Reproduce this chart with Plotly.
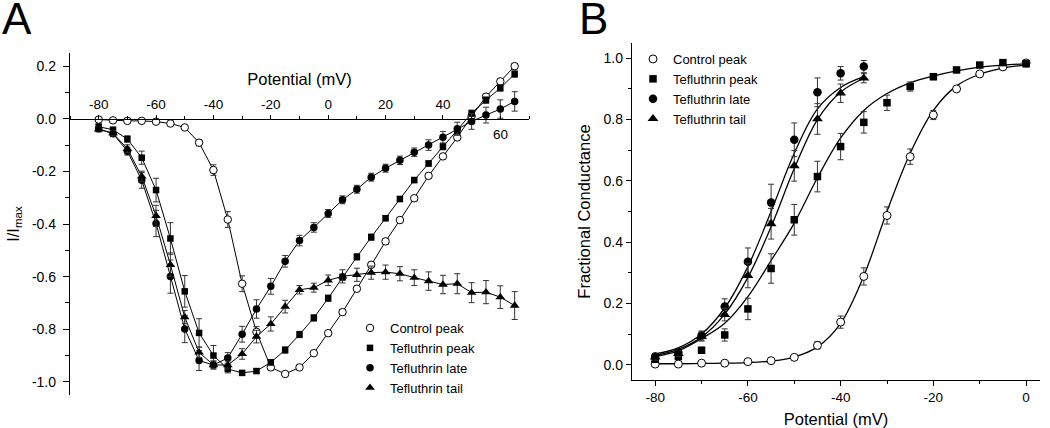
import plotly.graph_objects as go

# ---- Panel A: current-voltage relationships ----
volt_a = [-80, -75, -70, -65, -60, -55, -50, -45, -40, -35, -30, -25, -20, -15, -10,
          -5, 0, 5, 10, 15, 20, 25, 30, 35, 40, 45, 50, 55, 60, 65]

ctrl_peak_a = [-0.003, -0.006, -0.008, -0.008, -0.011, -0.018, -0.033, -0.091, -0.195, -0.383,
               -0.627, -0.81, -0.945, -0.97, -0.945, -0.891, -0.815, -0.735, -0.646, -0.555,
               -0.466, -0.385, -0.302, -0.217, -0.143, -0.071, 0.01, 0.084, 0.142, 0.2]
ctrl_peak_a_err = [0.005, 0.005, 0.005, 0.005, 0.005, 0.005, 0.008, 0.012, 0.02, 0.03,
                   0.03, 0.02, 0.01, 0.008, 0.008, 0.008, 0.01, 0.01, 0.01, 0.01,
                   0.01, 0.01, 0.01, 0.01, 0.01, 0.01, 0.01, 0.01, 0.01, 0.01]

tef_peak_a = [-0.03, -0.042, -0.077, -0.148, -0.271, -0.455, -0.656, -0.814, -0.9, -0.951,
              -0.966, -0.959, -0.926, -0.879, -0.82, -0.757, -0.682, -0.602, -0.525, -0.45,
              -0.378, -0.305, -0.233, -0.17, -0.106, -0.045, 0.021, 0.071, 0.117, 0.17]
tef_peak_a_err = [0.01, 0.01, 0.012, 0.025, 0.045, 0.06, 0.06, 0.054, 0.038, 0.015,
                  0.008, 0.008, 0.01, 0.012, 0.012, 0.012, 0.012, 0.012, 0.012, 0.012,
                  0.01, 0.01, 0.01, 0.01, 0.012, 0.012, 0.012, 0.012, 0.012, 0.012]

tef_late_a = [-0.038, -0.057, -0.123, -0.234, -0.398, -0.6, -0.799, -0.919, -0.936, -0.909,
              -0.819, -0.723, -0.637, -0.542, -0.463, -0.413, -0.36, -0.308, -0.268, -0.222,
              -0.188, -0.158, -0.127, -0.1, -0.07, -0.038, -0.01, 0.014, 0.037, 0.066]
tef_late_a_err = [0.01, 0.01, 0.015, 0.03, 0.05, 0.063, 0.052, 0.038, 0.015, 0.02,
                  0.03, 0.035, 0.03, 0.022, 0.02, 0.018, 0.015, 0.015, 0.015, 0.015,
                  0.015, 0.016, 0.016, 0.02, 0.022, 0.025, 0.03, 0.03, 0.035, 0.037]

tef_tail_a = [-0.04, -0.055, -0.114, -0.219, -0.369, -0.555, -0.754, -0.888, -0.936, -0.936,
              -0.894, -0.828, -0.78, -0.714, -0.65, -0.642, -0.614, -0.599, -0.593, -0.585,
              -0.583, -0.589, -0.604, -0.617, -0.63, -0.627, -0.661, -0.659, -0.678, -0.71]
tef_tail_a_err = [0.01, 0.01, 0.015, 0.02, 0.04, 0.045, 0.025, 0.02, 0.015, 0.015,
                  0.02, 0.024, 0.027, 0.024, 0.016, 0.017, 0.02, 0.025, 0.025, 0.025,
                  0.027, 0.027, 0.03, 0.035, 0.035, 0.038, 0.038, 0.044, 0.043, 0.053]

# ---- Panel B: conductance-voltage relationships ----
volt_b = [-80, -75, -70, -65, -60, -55, -50, -45, -40, -35, -30, -25, -20, -15, -10, -5, 0]
volt_b_short = [-80, -75, -70, -65, -60, -55, -50, -45, -40, -35]

ctrl_peak_b = [0.002, 0.002, 0.005, 0.005, 0.01, 0.013, 0.024, 0.063, 0.139, 0.288,
               0.487, 0.679, 0.815, 0.9, 0.949, 0.972, 0.985]
ctrl_peak_b_err = [0.004, 0.003, 0.003, 0.003, 0.004, 0.005, 0.006, 0.012, 0.02, 0.028,
                   0.028, 0.025, 0.015, 0.008, 0.006, 0.004, 0.004]
ctrl_peak_fit = [0.003, 0.003, 0.004, 0.005, 0.007, 0.012, 0.025, 0.058, 0.135, 0.29,
                 0.5, 0.69, 0.83, 0.91, 0.948, 0.968, 0.978]

tef_peak_b = [0.018, 0.027, 0.047, 0.097, 0.182, 0.314, 0.473, 0.614, 0.712, 0.791,
              0.855, 0.908, 0.94, 0.962, 0.978, 0.986, 0.982]
tef_peak_b_err = [0.01, 0.01, 0.01, 0.02, 0.035, 0.048, 0.05, 0.05, 0.043, 0.035,
                  0.025, 0.015, 0.01, 0.008, 0.006, 0.005, 0.005]
tef_peak_fit = [0.027, 0.045, 0.085, 0.135, 0.222, 0.34, 0.462, 0.61, 0.74, 0.83,
                0.885, 0.92, 0.942, 0.959, 0.971, 0.978, 0.982]

tef_late_b = [0.027, 0.04, 0.095, 0.19, 0.336, 0.529, 0.734, 0.889, 0.951, 0.973]
tef_late_b_err = [0.01, 0.01, 0.015, 0.025, 0.045, 0.06, 0.055, 0.047, 0.022, 0.02]
tef_late_fit = [0.035, 0.055, 0.1, 0.185, 0.32, 0.5, 0.69, 0.835, 0.905, 0.94]

tef_tail_b = [0.025, 0.036, 0.092, 0.163, 0.291, 0.46, 0.649, 0.802, 0.886, 0.935]
tef_tail_b_err = [0.01, 0.01, 0.015, 0.02, 0.04, 0.05, 0.05, 0.05, 0.03, 0.015]
tef_tail_fit = [0.03, 0.05, 0.09, 0.165, 0.285, 0.45, 0.64, 0.8, 0.89, 0.935]

# tick labels
xa_ticks = [-80, -60, -40, -20, 0, 20, 40]
xa_ticktext = ['-80', '-60', '-40', '-20', '0', '20', '40']
xa_minor = [-90, -70, -50, -30, -10, 10, 30, 50, 60, 70]
ya_ticks = [-1.0, -0.8, -0.6, -0.4, -0.2, 0.0, 0.2]
ya_ticktext = ['-1.0', '-0.8', '-0.6', '-0.4', '-0.2', '0.0', '0.2']
ya_minor = [-0.9, -0.7, -0.5, -0.3, -0.1, 0.1]
xb_ticks = [-80, -60, -40, -20, 0]
xb_ticktext = ['-80', '-60', '-40', '-20', '0']
xb_minor = [-70, -50, -30, -10]
yb_ticks = [0.0, 0.2, 0.4, 0.6, 0.8, 1.0]
yb_ticktext = ['0.0', '0.2', '0.4', '0.6', '0.8', '1.0']
yb_minor = [0.1, 0.3, 0.5, 0.7, 0.9]

names = ['Control peak', 'Tefluthrin peak', 'Tefluthrin late', 'Tefluthrin tail']

FONT = 'Liberation Sans, Arial, Helvetica, sans-serif'
W, H = 1050, 428

open_circle = dict(symbol='circle', color='white', line=dict(color='black', width=1))
filled = lambda s: dict(symbol=s, color='black', line=dict(color='black', width=0))

fig = go.Figure()

# Panel A
series_a = [
    (ctrl_peak_a, ctrl_peak_a_err, dict(open_circle, size=7.5)),
    (tef_peak_a, tef_peak_a_err, dict(filled('square'), size=6.5)),
    (tef_late_a, tef_late_a_err, dict(filled('circle'), size=7.5)),
    (tef_tail_a, tef_tail_a_err, dict(filled('triangle-up'), size=8.5)),
]
for ys, _, _ in series_a:
    fig.add_trace(go.Scatter(x=volt_a, y=ys, mode='lines', showlegend=False,
                             line=dict(color='black', width=1), xaxis='x', yaxis='y',
                             hoverinfo='skip'))
for name, (ys, err, mk) in zip(names, series_a):
    fig.add_trace(go.Scatter(
        x=volt_a, y=ys, mode='markers', name=name, marker=mk,
        error_y=dict(type='data', array=err, visible=True, color='#333',
                     thickness=1, width=3),
        xaxis='x', yaxis='y', legend='legend'))

# Panel B
fits_b = [
    (volt_b, ctrl_peak_fit), (volt_b, tef_peak_fit),
    (volt_b_short, tef_late_fit), (volt_b_short, tef_tail_fit),
]
for xs, ys in fits_b:
    fig.add_trace(go.Scatter(x=xs, y=ys, mode='lines', showlegend=False,
                             line=dict(color='black', width=1.3, shape='spline', smoothing=1),
                             xaxis='x2', yaxis='y2', hoverinfo='skip'))
series_b = [
    (volt_b, ctrl_peak_b, ctrl_peak_b_err, dict(open_circle, size=8)),
    (volt_b, tef_peak_b, tef_peak_b_err, dict(filled('square'), size=7.5)),
    (volt_b_short, tef_late_b, tef_late_b_err, dict(filled('circle'), size=8.5)),
    (volt_b_short, tef_tail_b, tef_tail_b_err, dict(filled('triangle-up'), size=9.5)),
]
for name, (xs, ys, err, mk) in zip(names, series_b):
    fig.add_trace(go.Scatter(
        x=xs, y=ys, mode='markers', name=name, marker=mk,
        error_y=dict(type='data', array=err, visible=True, color='#333',
                     thickness=1, width=3),
        xaxis='x2', yaxis='y2', legend='legend2'))

# geometry (pixel positions of the plot frames)
ya_dom = [1 - 395 / H, 1 - 53 / H]
ya_range = [-1.05, 0.25]
x0_pos = ya_dom[0] + (0 - ya_range[0]) / (ya_range[1] - ya_range[0]) * (ya_dom[1] - ya_dom[0])

axis_common = dict(showgrid=False, zeroline=False, showline=True, linecolor='black',
                   linewidth=1.4, ticks='outside', tickcolor='black', tickwidth=1.2,
                   tickfont=dict(family=FONT, size=14, color='black'),
                   automargin=False, tickmode='array')

fig.update_layout(
    width=W, height=H,
    margin=dict(l=0, r=0, t=0, b=0),
    paper_bgcolor='white', plot_bgcolor='white',
    font=dict(family=FONT, color='black'),
    xaxis=dict(axis_common, domain=[70 / W, 529 / W], range=[-90, 70],
               anchor='free', position=x0_pos, side='top',
               tickvals=xa_ticks, ticktext=xa_ticktext, ticklen=4,
               tickfont=dict(family=FONT, size=13.5, color='black'),
               minor=dict(tickmode='array', tickvals=xa_minor, ticks='outside',
                          ticklen=3, tickcolor='black', tickwidth=1),
               title=dict(text='Potential (mV)', font=dict(family=FONT, size=16.5),
                          standoff=6)),
    yaxis=dict(axis_common, domain=ya_dom, range=ya_range, anchor='x',
               tickvals=ya_ticks, ticktext=ya_ticktext, ticklen=6,
               ticklabelstandoff=4,
               minor=dict(tickmode='array', tickvals=ya_minor, ticks='outside',
                          ticklen=4, tickcolor='black', tickwidth=1),
               title=dict(text='I/I<sub>max</sub>', font=dict(family=FONT, size=16.5),
                          standoff=8)),
    xaxis2=dict(axis_common, domain=[632 / W, 1040 / W], range=[-85, 3], anchor='y2',
                tickvals=xb_ticks, ticktext=xb_ticktext, ticklen=5,
                tickfont=dict(family=FONT, size=13.5, color='black'),
                minor=dict(tickmode='array', tickvals=xb_minor, ticks='outside',
                           ticklen=3, tickcolor='black', tickwidth=1),
                title=dict(text='Potential (mV)', font=dict(family=FONT, size=16.5),
                           standoff=10)),
    yaxis2=dict(axis_common, domain=[1 - 380 / H, 1 - 43 / H], range=[-0.05, 1.05],
                anchor='x2', tickvals=yb_ticks, ticktext=yb_ticktext, ticklen=5,
                minor=dict(tickmode='array', tickvals=yb_minor, ticks='outside',
                           ticklen=3, tickcolor='black', tickwidth=1),
                title=dict(text='Fractional Conductance', font=dict(family=FONT, size=16.5),
                           standoff=8)),
    legend=dict(x=350 / W, y=1 - 313 / H, xanchor='left', yanchor='top',
                bgcolor='rgba(0,0,0,0)', itemwidth=30, tracegroupgap=0,
                font=dict(family=FONT, size=13, color='black')),
    legend2=dict(x=633 / W, y=1 - 44 / H, xanchor='left', yanchor='top',
                 bgcolor='rgba(0,0,0,0)', itemwidth=30, tracegroupgap=0,
                 font=dict(family=FONT, size=13, color='black')),
    annotations=[
        dict(text='A', x=0, y=1, xref='paper', yref='paper', xanchor='left',
             yanchor='top', showarrow=False, yshift=8,
             font=dict(family=FONT, size=44, color='black')),
        dict(text='B', x=577 / W, y=1, xref='paper', yref='paper', xanchor='left',
             yanchor='top', showarrow=False, yshift=8,
             font=dict(family=FONT, size=44, color='black')),
        dict(text='60', x=60, y=0, xref='x', yref='y', yanchor='middle',
             showarrow=False, yshift=-16,
             font=dict(family=FONT, size=13.5, color='black')),
    ],
)

fig.write_html('out.html', config={'displayModeBar': False},
               post_script="document.body.style.margin='0px';")
